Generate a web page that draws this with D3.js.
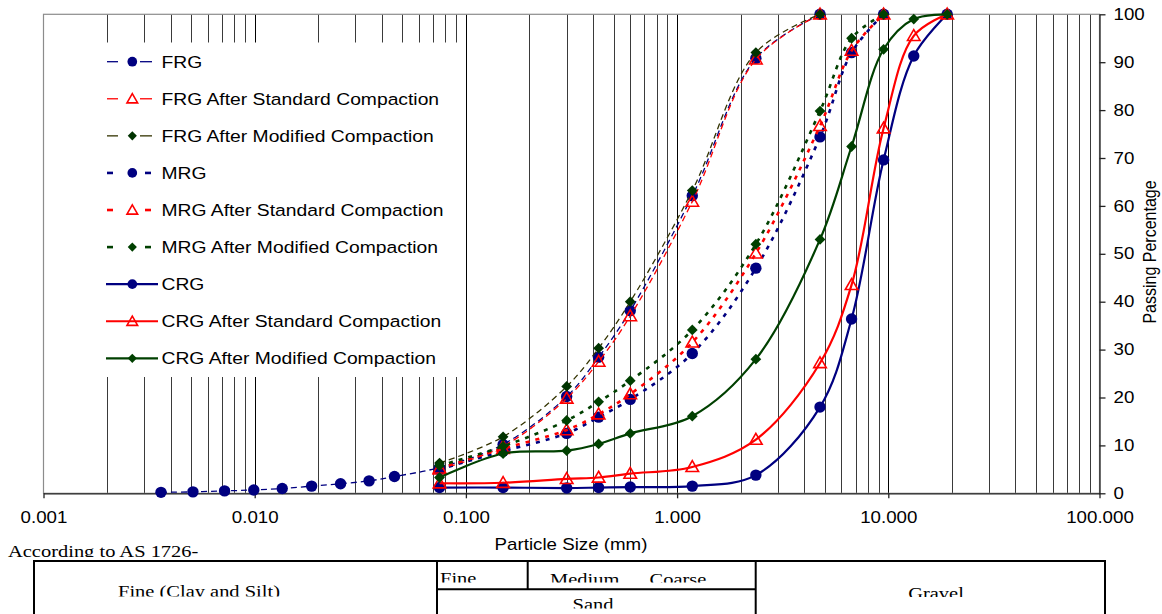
<!DOCTYPE html>
<html>
<head>
<meta charset="utf-8">
<script src="https://cdn.jsdelivr.net/npm/d3@7"></script>
<style>
  body { margin: 0; background: #fff; }
  svg { display: block; }
</style>
</head>
<body>
<script>
// sieve sizes (mm)
const hydroSizes = [0.0036, 0.0051, 0.0072, 0.0099, 0.0135, 0.0186, 0.0255, 0.0348, 0.0459];
const sieveSizes = [0.075, 0.15, 0.3, 0.425, 0.6, 1.18, 2.36, 4.75, 6.7, 9.5, 13.2, 19];

// passing percentages
const frgHydro = [0.2, 0.3, 0.5, 0.7, 1.0, 1.5, 2.0, 2.6, 3.5];
const frg = [5.4, 10.2, 20.2, 28.4, 38.1, 62.1, 90.8, 100];
const frgStd = [5.0, 9.8, 19.8, 27.5, 37.0, 60.9, 90.6, 100];
const frgMod = [6.3, 11.8, 22.3, 30.3, 40.0, 63.2, 92.0, 100];
const mrg = [5.0, 8.8, 12.5, 15.9, 19.6, 29.2, 47.0, 74.4, 92.0, 100];
const mrgStd = [5.2, 9.3, 13.2, 16.5, 20.7, 31.5, 50.1, 76.7, 92.4, 100];
const mrgMod = [5.8, 9.8, 15.2, 19.1, 23.5, 34.1, 52.0, 79.8, 95.0, 100];
const crg = [1.2, 1.2, 1.1, 1.2, 1.3, 1.5, 3.8, 18.0, 36.4, 69.6, 91.3, 100];
const crgStd = [2.1, 2.2, 3.0, 3.3, 4.1, 5.5, 11.2, 27.2, 43.5, 76.2, 95.5, 100];
const crgMod = [3.3, 8.3, 8.9, 10.3, 12.5, 16.1, 28.0, 53.0, 72.4, 92.7, 99.0, 100];

const legendNames = ['FRG', 'FRG After Standard Compaction', 'FRG After Modified Compaction',
  'MRG', 'MRG After Standard Compaction', 'MRG After Modified Compaction',
  'CRG', 'CRG After Standard Compaction', 'CRG After Modified Compaction'];

const xTicks = [0.001, 0.01, 0.1, 1, 10, 100];
const yTicks = [0, 10, 20, 30, 40, 50, 60, 70, 80, 90, 100];

const w = 1162;
const h = 614;
const plot = { left: 43.5, right: 1099.5, top: 14.3, bottom: 493.3 };
const SX = 1.17; // the picture is a bit wide, stretch text the same way
const sans = 'Arial, "Liberation Sans", sans-serif';
const serif = '"Times New Roman", "Liberation Serif", serif';

const zip = (xs, ys) => ys.map((v, i) => [xs[i], v]);

// style per series: colour, line dash, width, marker kind
const series = [
  { name: legendNames[0], pts: zip(hydroSizes.concat(sieveSizes), frgHydro.concat(frg)), color: '#000080', dash: '6,4', width: 1.3, marker: 'circle' },
  { name: legendNames[1], pts: zip(sieveSizes, frgStd), color: '#ff0000', dash: '6,4', width: 1.3, marker: 'triangle' },
  { name: legendNames[2], pts: zip(sieveSizes, frgMod), color: '#333300', mcolor: '#003300', dash: '6,4', width: 1.3, marker: 'diamond' },
  { name: legendNames[3], pts: zip(sieveSizes, mrg), color: '#000080', dash: '4,6', width: 2.6, marker: 'circle' },
  { name: legendNames[4], pts: zip(sieveSizes, mrgStd), color: '#ff0000', dash: '4,6', width: 2.6, marker: 'triangle' },
  { name: legendNames[5], pts: zip(sieveSizes, mrgMod), color: '#004000', dash: '4,6', width: 2.6, marker: 'diamond' },
  { name: legendNames[6], pts: zip(sieveSizes, crg), color: '#000080', dash: null, width: 2.2, marker: 'circle' },
  { name: legendNames[7], pts: zip(sieveSizes, crgStd), color: '#ff0000', dash: null, width: 2.2, marker: 'triangle' },
  { name: legendNames[8], pts: zip(sieveSizes, crgMod), color: '#004000', dash: null, width: 2.2, marker: 'diamond' }
];

const xScale = d3.scaleLog().domain([0.001, 100]).range([plot.left, plot.right]);
const yScale = d3.scaleLinear().domain([0, 100]).range([plot.bottom, plot.top]);

const svg = d3.select('body').append('svg')
  .attr('width', w)
  .attr('height', h);

const defs = svg.append('defs');

// stretched text helper
function txt(g, x, y, s, opt) {
  opt = opt || {};
  return g.append('text')
    .attr('transform', `translate(${x},${y}) scale(${SX},1)` + (opt.rotate ? ` rotate(${opt.rotate})` : ''))
    .attr('text-anchor', opt.anchor || 'start')
    .attr('dy', opt.dy || 0)
    .style('font-family', opt.family || sans)
    .style('font-size', (opt.size || 16) + 'px')
    .attr('fill', '#000')
    .text(s);
}

// vertical grid lines 2..9 of every decade
const grid = [];
for (let k = -3; k <= 1; k++) {
  for (let m = 1; m <= 9; m++) {
    const v = m * Math.pow(10, k);
    if (v > 0.001) grid.push(v);
  }
}
svg.append('g').selectAll('line')
  .data(grid)
  .enter()
  .append('line')
  .attr('x1', d => Math.round(xScale(d)) + 0.5)
  .attr('x2', d => Math.round(xScale(d)) + 0.5)
  .attr('y1', plot.top)
  .attr('y2', plot.bottom)
  .attr('stroke', (d, i) => (i % 9 === 8 ? '#000' : '#3a3a3a'))
  .attr('stroke-width', 1);

// plot frame
svg.append('rect')
  .attr('x', plot.left)
  .attr('y', plot.top)
  .attr('width', plot.right - plot.left)
  .attr('height', plot.bottom - plot.top)
  .attr('fill', 'none')
  .attr('stroke', '#8c8c8c')
  .attr('stroke-width', 1.2);

// legend background hides the grid behind it
svg.append('rect')
  .attr('x', 47).attr('y', 42.5)
  .attr('width', 415).attr('height', 334.5)
  .attr('fill', '#fff');

// axes
const xAxis = d3.axisBottom(xScale).tickValues(xTicks).tickFormat(d3.format('.3f')).tickSize(5).tickSizeOuter(0);
const gx = svg.append('g')
  .attr('transform', `translate(0, ${plot.bottom})`)
  .call(xAxis);
gx.selectAll('text')
  .attr('y', 30).attr('dy', 0)
  .attr('transform', `scale(${SX},1)`)
  .style('font-family', sans).style('font-size', '16px').attr('fill', '#000');

const yAxis = d3.axisRight(yScale).tickValues(yTicks).tickSize(6).tickSizeOuter(0);
const gy = svg.append('g')
  .attr('transform', `translate(${plot.right}, 0)`)
  .call(yAxis);
gy.selectAll('text')
  .attr('x', 14 / SX)
  .attr('transform', `scale(${SX},1)`)
  .style('font-family', sans).style('font-size', '16px').attr('fill', '#000');
svg.selectAll('.domain, .tick line').attr('stroke', '#222').attr('stroke-width', 1.3);

// marker drawing
function marker(g, s, x, y, scale) {
  const c = s.mcolor || s.color;
  if (s.marker === 'circle') {
    g.append('circle').attr('cx', x).attr('cy', y).attr('r', 5.7 * scale).attr('fill', c);
  } else if (s.marker === 'triangle') {
    g.append('path')
      .attr('d', d3.symbol(d3.symbolTriangle, 68 * scale * scale)())
      .attr('transform', `translate(${x},${y + 1})`)
      .attr('fill', 'none').attr('stroke', c).attr('stroke-width', 1.6);
  } else {
    g.append('path')
      .attr('d', d3.symbol(d3.symbolSquare, 58 * scale * scale)())
      .attr('transform', `translate(${x},${y}) rotate(45)`)
      .attr('fill', c);
  }
}

const line = d3.line()
  .x(d => xScale(d[0]))
  .y(d => yScale(d[1]))
  .curve(d3.curveCatmullRom.alpha(0.5));

series.forEach((s) => {
  const g = svg.append('g');
  g.append('path')
    .attr('d', line(s.pts))
    .attr('fill', 'none')
    .attr('stroke', s.color)
    .attr('stroke-width', s.width)
    .attr('stroke-dasharray', s.dash);
  s.pts.forEach(p => marker(g, s, xScale(p[0]), yScale(p[1]), 1));
});

// legend
const legend = svg.append('g');
series.forEach((s, i) => {
  const ly = 61.7 + i * 37.08;
  const g = legend.append('g');
  if (!s.dash) {
    g.append('line').attr('x1', 106).attr('x2', 158).attr('y1', ly).attr('y2', ly)
      .attr('stroke', s.color).attr('stroke-width', s.width);
  } else {
    const segs = s.width > 2 ? [[107, 113], [145, 151]] : [[107, 118], [140, 152]];
    segs.forEach(sg => g.append('line').attr('x1', sg[0]).attr('x2', sg[1]).attr('y1', ly).attr('y2', ly)
      .attr('stroke', s.color).attr('stroke-width', s.width));
  }
  marker(g, s, 132.3, ly, 0.85);
  txt(g, 161.5, ly, s.name, { dy: '0.36em', size: 16.5 });
});

// axis titles
txt(svg, 571, 550, 'Particle Size (mm)', { anchor: 'middle', size: 16 });
txt(svg, 1149, 252, 'Passing Percentage', { anchor: 'middle', size: 16, rotate: -90, dy: '0.35em' });

// soil classification table below the chart
const clips = [
  { id: 'c0', x: 0, y: 530, w: 430, h: 27 },
  { id: 'c1', x: 36, y: 563, w: 399, h: 33.5 },
  { id: 'c2', x: 439, y: 563, w: 315, h: 19.5 },
  { id: 'c3', x: 439, y: 591, w: 315, h: 17.5 },
  { id: 'c4', x: 758, y: 563, w: 345, h: 34 }
];
clips.forEach(c => defs.append('clipPath').attr('id', c.id)
  .append('rect').attr('x', c.x).attr('y', c.y).attr('width', c.w).attr('height', c.h));

const table = svg.append('g').attr('stroke', '#000').attr('stroke-width', 2);
table.append('path').attr('fill', 'none')
  .attr('d', 'M34,620 V561 H1105 V620 M437,561 V620 M527.7,561 V589.3 M437,589.3 H755.7 M755.7,561 V620');

const tableText = [
  { s: 'According to AS 1726-', x: 8, y: 556.5, anchor: 'start', clip: 'c0' },
  { s: 'Fine (Clay and Silt)', x: 118, y: 596.5, anchor: 'start', clip: 'c1' },
  { s: 'Fine', x: 440, y: 584, anchor: 'start', clip: 'c2' },
  { s: 'Medium', x: 550, y: 584.5, anchor: 'start', clip: 'c2' },
  { s: 'Coarse', x: 649.5, y: 584.5, anchor: 'start', clip: 'c2' },
  { s: 'Sand', x: 593, y: 609.5, anchor: 'middle', clip: 'c3' },
  { s: 'Gravel', x: 936, y: 598.5, anchor: 'middle', clip: 'c4' }
];
tableText.forEach((t) => {
  const g = svg.append('g').attr('clip-path', `url(#${t.clip})`);
  txt(g, t.x, t.y, t.s, { anchor: t.anchor, family: serif, size: 17.5 });
});
</script>
</body>
</html>
